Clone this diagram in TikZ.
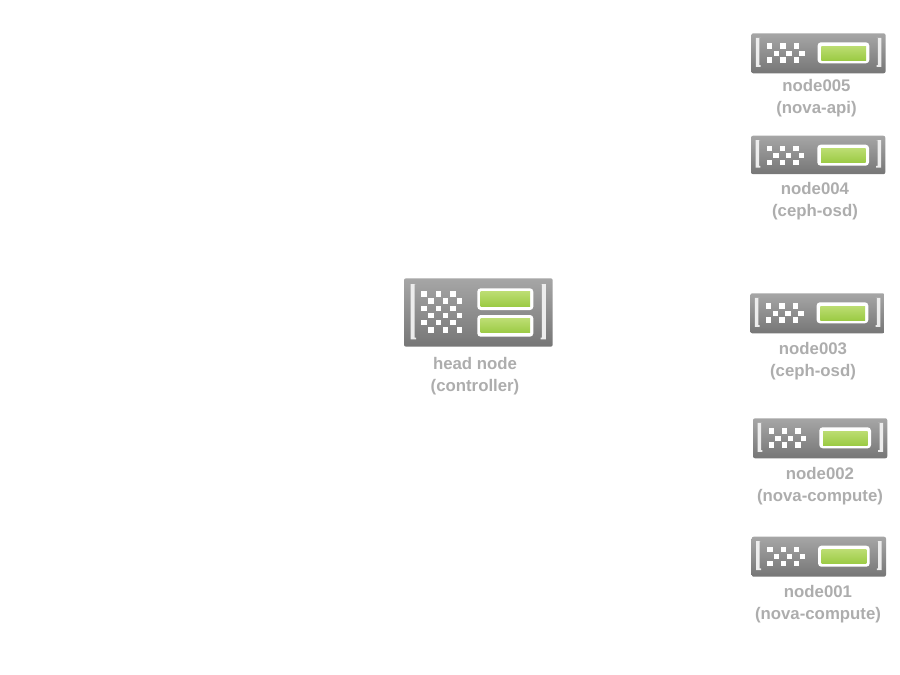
\documentclass[tikz,border=0pt]{standalone}
\usepackage{fontspec}
\setmainfont{Liberation Sans}
\definecolor{labelgray}{HTML}{ADADAD}
\definecolor{bodytop}{HTML}{A6A6A6}
\definecolor{bodybottom}{HTML}{767676}
\definecolor{greentop}{HTML}{BCDD72}
\definecolor{greenbottom}{HTML}{9CCB45}
\tikzset{
  serverbody/.style={rounded corners=1.5pt,top color=bodytop,bottom color=bodybottom},
  serverbar/.style={fill=white,rounded corners=2.5pt},
  serverled/.style={top color=greentop,bottom color=greenbottom},
  serverdot/.style={fill=white},
  serverbracket/.style={fill=white!93!black},
  serverlabel/.style={text=labelgray,font=\bfseries\fontsize{12.6}{16.5}\selectfont,align=center,inner sep=0pt}
}
% one bar server, #1 = left, #2 = top, #3 = height
\newcommand{\smallserver}[3]{
  \begin{scope}[shift={(#1,#2)}]
    \path[serverbody] (0,0) rectangle (134.3,#3);
    \path[serverbracket] (9.3,4.5) -| (8,#3-8.3) -| (9.3,#3-6.5) -| (4.5,4.5) -- cycle;
    \path[serverbracket] (125.2,4.5) -| (126.5,#3-8.3) -| (125.2,#3-6.5) -| (130,4.5) -- cycle;
    \foreach \dotx in {18.3,31.7,45} {
      \foreach \doty in {10,24} {
        \path[serverdot] (\dotx-2.7,\doty-.2) rectangle (\dotx+2.7,\doty+5.2);
      }
    }
    \foreach \dotx in {25,37.7,50.7} {
      \path[serverdot] (\dotx-2.7,17.3) rectangle (\dotx+2.7,22.7);
    }
    \path[serverbar] (66.3,9) rectangle (118,30);
    \path[serverled] (70,12.7) rectangle (114.7,26.7);
  \end{scope}
}
\begin{document}
\begin{tikzpicture}[x=0.75pt,y=-0.75pt]
  \useasboundingbox (0,0) rectangle (900,675);

  % head node
  \path[serverbody] (404,278.3) rectangle (552.7,346.7);
  \path[serverbracket] (416,284) -| (414.7,337.5) -| (416,339.3) -| (410.7,284) -- cycle;
  \path[serverbracket] (540.5,284) -| (541.8,337.5) -| (540.5,339.3) -| (545.8,284) -- cycle;
  \foreach \dotx in {424,438.3,453} {
    \foreach \doty in {294,308.3,322.7} {
      \path[serverdot] (\dotx-2.7,\doty-2.7) rectangle (\dotx+2.7,\doty+2.7);
    }
  }
  \foreach \dotx in {431,445.3,459.7} {
    \foreach \doty in {301,315.7,330} {
      \path[serverdot] (\dotx-2.7,\doty-2.7) rectangle (\dotx+2.7,\doty+2.7);
    }
  }
  \path[serverbar] (477.3,288.3) rectangle (533.3,310);
  \path[serverled] (480.7,291.7) rectangle (530,306);
  \path[serverbar] (477.3,315) rectangle (533.3,336.7);
  \path[serverled] (480.7,318.7) rectangle (530,332.7);
  \node[serverlabel] (head) at (475,376) {head node\\(controller)};

  % compute and storage nodes
  \smallserver{751.3}{33.3}{40}
  \node[serverlabel] (node5) at (816.5,98) {node005\\(nova-api)};
  \smallserver{751}{135.7}{38.5}
  \node[serverlabel] (node4) at (815,201) {node004\\(ceph-osd)};
  \smallserver{750.3}{293.3}{40}
  \node[serverlabel] (node3) at (813,361) {node003\\(ceph-osd)};
  \smallserver{753}{418.3}{40}
  \node[serverlabel] (node2) at (820,486) {node002\\(nova-compute)};
  \smallserver{751.7}{536.7}{40}
  \node[serverlabel] (node1) at (818,604) {node001\\(nova-compute)};
\end{tikzpicture}
\end{document}
